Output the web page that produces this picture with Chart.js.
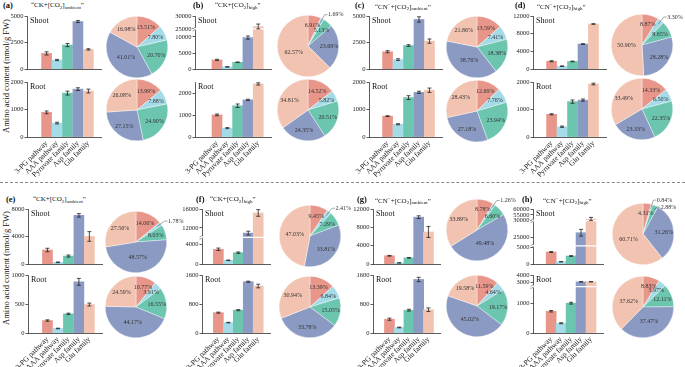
<!DOCTYPE html>
<html>
<head>
<meta charset="utf-8">
<script src="https://cdn.jsdelivr.net/npm/chart.js@4.4.0/dist/chart.umd.min.js"></script>
<style>
body { margin: 0; width: 685px; height: 367px; overflow: hidden; background: #fff; position: relative; font-family: "Liberation Serif", serif; color: #111; }
canvas { position: absolute; }
.lab { position: absolute; font-weight: bold; font-size: 8.5px; line-height: 10px; }
.ttl { position: absolute; font-size: 7px; line-height: 10px; white-space: nowrap; }
.ttl sub { font-size: 5px; vertical-align: -1.5px; }
.ttl sup { font-size: 5px; vertical-align: 2.5px; }
.ytitle { position: absolute; font-size: 8.5px; white-space: nowrap; transform: translate(-50%, -50%) rotate(-90deg); }
.dash { position: absolute; left: 0; width: 685px; top: 182px; border-top: 1px dashed #888; }
</style>
</head>
<body>
<div class="dash"></div>
<div class="ytitle" style="left:6px;top:76px">Amino acid content (nmol/g FW)</div>
<div class="ytitle" style="left:6px;top:268px">Amino acid content (nmol/g FW)</div>
<script>
const categories = ["3-PG pathway", "AAA pathway", "Pyruvate family", "Asp family", "Glu family"];
const colors = ["#e8968a", "#a4dbe9", "#6cc5ae", "#8a9ac3", "#f3c3b1"];

// (a) CK + ambient CO2
const aShoot = [1476, 852, 2261, 4480, 1855];
const aShootErr = [150, 60, 150, 100, 60];
const aRoot = [897, 505, 1596, 1740, 1671];
const aRootErr = [50, 30, 70, 50, 70];
const aShootPct = [13.51, 7.80, 20.70, 41.01, 16.98];
const aRootPct = [13.99, 7.88, 24.90, 27.15, 26.08];
const aShootTicks = [0, 2500, 5000];
const aRootTicks = [0, 1000, 2000];

// (b) CK + high CO2
const bShoot = [2860, 700, 2120, 9800, 25885];
const bShootErr = [200, 80, 100, 500, 1000];
const bRoot = [1006, 403, 1421, 1687, 2412];
const bRootErr = [40, 25, 80, 30, 50];
const bShootPct = [6.91, 1.69, 5.13, 23.69, 62.57];
const bRootPct = [14.52, 5.82, 20.51, 24.35, 34.81];
const bShootTicks = [0, 5000, 10000, 25000, 30000];
const bRootTicks = [0, 1000, 2000];

// (c) CN- + ambient CO2
const cShoot = [1638, 893, 2216, 4673, 2635];
const cShootErr = [100, 80, 80, 250, 200];
const cRoot = [759, 464, 1432, 1625, 1700];
const cRootErr = [15, 20, 70, 40, 80];
const cShootPct = [13.59, 7.41, 18.38, 38.76, 21.86];
const cRootPct = [12.69, 7.76, 23.94, 27.18, 28.43];
const cShootTicks = [0, 2500, 5000];
const cRootTicks = [0, 1000, 2000];

// (d) CN- + high CO2
const dShoot = [1776, 661, 1732, 5661, 10189];
const dShootErr = [120, 60, 80, 80, 80];
const dRoot = [825, 374, 1286, 1342, 1927];
const dRootErr = [20, 25, 60, 40, 30];
const dShootPct = [8.87, 3.30, 8.65, 28.28, 50.90];
const dRootPct = [14.33, 6.50, 22.35, 23.33, 33.49];
const dShootTicks = [0, 4000, 8000, 12000];
const dRootTicks = [0, 1000, 2000];

// (e) CK + ambient CO2
const eShoot = [2048, 259, 1170, 7076, 4015];
const eShootErr = [250, 50, 150, 250, 700];
const eRoot = [215, 78, 330, 882, 491];
const eRootErr = [12, 5, 12, 60, 25];
const eShootPct = [14.06, 1.78, 8.03, 48.57, 27.56];
const eRootPct = [10.77, 3.91, 16.55, 44.17, 24.59];
const eShootTicks = [0, 4000, 8000];
const eRootTicks = [0, 500, 1000];

// (f) CK + high CO2
const fShoot = [3047, 777, 2350, 10900, 15160];
const fShootErr = [250, 60, 150, 400, 700];
const fRoot = [561, 287, 630, 1415, 1296];
const fRootErr = [15, 8, 15, 15, 50];
const fShootPct = [9.45, 2.41, 7.29, 33.81, 47.03];
const fRootPct = [13.39, 6.84, 15.05, 33.78, 30.94];
const fShootTicks = [0, 4000, 12000, 16000];
const fRootTicks = [0, 800, 1600];

// (g) CN- + ambient CO2
const gShoot = [1813, 260, 1363, 10220, 6999];
const gShootErr = [80, 40, 60, 300, 1200];
const gRoot = [380, 152, 629, 1477, 642];
const gRootErr = [30, 10, 25, 60, 50];
const gShootPct = [8.78, 1.26, 6.60, 49.48, 33.89];
const gRootPct = [11.59, 4.64, 19.17, 45.02, 19.58];
const gShootTicks = [0, 4000, 8000, 12000];
const gRootTicks = [0, 800, 1600];

// (h) CN- + high CO2
const hShoot = [3640, 709, 2432, 26400, 51270];
const hShootErr = [150, 50, 100, 1000, 1500];
const hRoot = [726, 326, 995, 3080, 3092];
const hRootErr = [25, 15, 30, 20, 20];
const hShootPct = [4.31, 0.84, 2.88, 31.26, 60.71];
const hRootPct = [8.83, 3.97, 12.11, 37.47, 37.62];
const hShootTicks = [0, 5000, 25000, 30000, 55000, 60000];
const hRootTicks = [0, 1000, 3000, 4000];

// y scale with optional breaks: segs = [low, high, share of axis height]
class BrokenScale extends Chart.LinearScale {
    determineDataLimits() {
        const segs = this.options.segs;
        this.min = segs[0][0];
        this.max = segs[segs.length - 1][1];
    }
    buildTicks() {
        return this.options.tickVals.map(v => ({ value: v }));
    }
    getPixelForValue(v) {
        const segs = this.options.segs;
        const total = segs.reduce((s, g) => s + g[2], 0);
        let acc = 0;
        for (let i = 0; i < segs.length; i++) {
            const [lo, hi, w] = segs[i];
            if (v <= hi || i === segs.length - 1) {
                const t = Math.min(Math.max((v - lo) / (hi - lo), 0), 1);
                return this.bottom - (acc + t * w) / total * this.height;
            }
            acc += w;
        }
    }
    getValueForPixel(p) {
        const segs = this.options.segs;
        const total = segs.reduce((s, g) => s + g[2], 0);
        const f = (this.bottom - p) / this.height * total;
        let acc = 0;
        for (const [lo, hi, w] of segs) {
            if (f <= acc + w) return lo + (f - acc) / w * (hi - lo);
            acc += w;
        }
        return this.max;
    }
}
BrokenScale.id = "broken";
BrokenScale.defaults = Chart.LinearScale.defaults;
Chart.register(BrokenScale);

// breaks, error bars and the Shoot/Root tag
const barDecor = {
    id: "barDecor",
    afterDatasetsDraw(chart, args, opts) {
        const ctx = chart.ctx;
        const y = chart.scales.y;
        const area = chart.chartArea;
        const segs = y.options.segs;
        const total = segs.reduce((s, g) => s + g[2], 0);
        ctx.save();
        let acc = 0;
        for (let i = 0; i < segs.length - 1; i++) {
            acc += segs[i][2];
            const py = y.bottom - acc / total * y.height;
            ctx.strokeStyle = "#fff";
            ctx.lineWidth = 1.2;
            ctx.beginPath();
            ctx.moveTo(area.left + 1, py);
            ctx.lineTo(area.right, py);
            ctx.stroke();
            ctx.fillStyle = "#fff";
            ctx.fillRect(area.left - 1.5, py - 1.2, 3, 2.4);
            ctx.strokeStyle = "#444";
            ctx.lineWidth = 0.5;
            ctx.beginPath();
            ctx.moveTo(area.left - 2.5, py - 0.2);
            ctx.lineTo(area.left + 1, py - 2.2);
            ctx.moveTo(area.left - 2.5, py + 2.2);
            ctx.lineTo(area.left + 1, py + 0.2);
            ctx.stroke();
        }
        const ds = chart.data.datasets[0];
        ctx.strokeStyle = "#222";
        ctx.lineWidth = 0.8;
        chart.getDatasetMeta(0).data.forEach((bar, i) => {
            const v = ds.data[i].y;
            const e = ds.errs[i];
            const t = y.getPixelForValue(v + e);
            const b = y.getPixelForValue(v - e);
            ctx.beginPath();
            ctx.moveTo(bar.x, t);
            ctx.lineTo(bar.x, b);
            ctx.moveTo(bar.x - 2, t);
            ctx.lineTo(bar.x + 2, t);
            ctx.moveTo(bar.x - 2, b);
            ctx.lineTo(bar.x + 2, b);
            ctx.stroke();
        });
        ctx.fillStyle = "#111";
        ctx.font = '8px "Liberation Serif"';
        ctx.textBaseline = "middle";
        ctx.textAlign = "left";
        ctx.fillText(opts.text, area.left + 3, area.top + 4.5);
        ctx.restore();
    }
};

const pieLabels = {
    id: "pieLabels",
    afterDatasetsDraw(chart) {
        const ctx = chart.ctx;
        const vals = chart.data.datasets[0].data;
        ctx.save();
        ctx.font = '6px "Liberation Serif"';
        ctx.fillStyle = "#333";
        ctx.strokeStyle = "#555";
        ctx.lineWidth = 0.5;
        ctx.textBaseline = "middle";
        let lastY = null;
        chart.getDatasetMeta(0).data.forEach((arc, i) => {
            const p = arc.getProps(["x", "y", "startAngle", "endAngle", "outerRadius"], true);
            const mid = (p.startAngle + p.endAngle) / 2;
            const cx = Math.cos(mid), sy = Math.sin(mid), r = p.outerRadius;
            const txt = vals[i].toFixed(2) + "%";
            if (vals[i] < 3.5) {
                const ex = p.x + cx * r * 1.15;
                let ey = p.y + sy * r * 1.15;
                if (lastY !== null && Math.abs(ey - lastY) < 7) ey = lastY + 7;
                ctx.beginPath();
                ctx.moveTo(p.x + cx * r * 0.85, p.y + sy * r * 0.85);
                ctx.lineTo(ex, ey);
                ctx.lineTo(ex + 3, ey);
                ctx.stroke();
                ctx.textAlign = "left";
                ctx.fillText(txt, ex + 3.5, ey);
                lastY = ey;
            } else {
                const f = vals[i] >= 35 ? 0.5 : 0.68;
                ctx.textAlign = "center";
                ctx.fillText(txt, p.x + cx * r * f, p.y + sy * r * f);
            }
        });
        ctx.restore();
    }
};

const rows = [
    { sTop: 16, sBot: 71.5, rTop: 81.5, rBot: 136.5, labY: 0 },
    { sTop: 208.5, sBot: 266.5, rTop: 274.5, rBot: 332, labY: 194 }
];

const panels = [
    { id: "a", row: 0, treat: "CK", co2: "ambient", labX: 3, ttlX: 31, axisX: 27, c1: 42.3, c5: 94.7, pieX: 137, pieY: [47, 110],
      shoot: aShoot, shootErr: aShootErr, root: aRoot, rootErr: aRootErr, shootPct: aShootPct, rootPct: aRootPct,
      shootTicks: aShootTicks, rootTicks: aRootTicks, shootSegs: [[0, 5000, 1]], rootSegs: [[0, 2000, 1]] },
    { id: "b", row: 0, treat: "CK", co2: "high", labX: 193, ttlX: 215, axisX: 195, c1: 213, c5: 264.5, pieX: 307.5, pieY: [46, 110],
      shoot: bShoot, shootErr: bShootErr, root: bRoot, rootErr: bRootErr, shootPct: bShootPct, rootPct: bRootPct,
      shootTicks: bShootTicks, rootTicks: bRootTicks, shootSegs: [[0, 12500, 43.6], [25000, 30000, 14]], rootSegs: [[0, 2500, 1]] },
    { id: "c", row: 0, treat: "CN", co2: "ambient", labX: 355, ttlX: 375, axisX: 369, c1: 383, c5: 435, pieX: 476.5, pieY: [47, 111],
      shoot: cShoot, shootErr: cShootErr, root: cRoot, rootErr: cRootErr, shootPct: cShootPct, rootPct: cRootPct,
      shootTicks: cShootTicks, rootTicks: cRootTicks, shootSegs: [[0, 5000, 1]], rootSegs: [[0, 2000, 1]] },
    { id: "d", row: 0, treat: "CN", co2: "high", labX: 515, ttlX: 537, axisX: 533, c1: 547, c5: 599, pieX: 641.5, pieY: [45, 109],
      shoot: dShoot, shootErr: dShootErr, root: dRoot, rootErr: dRootErr, shootPct: dShootPct, rootPct: dRootPct,
      shootTicks: dShootTicks, rootTicks: dRootTicks, shootSegs: [[0, 12000, 1]], rootSegs: [[0, 2000, 1]] },
    { id: "e", row: 1, treat: "CK", co2: "ambient", labX: 6, ttlX: 33, axisX: 28, c1: 43, c5: 95, pieX: 135.5, pieY: [241.5, 307],
      shoot: eShoot, shootErr: eShootErr, root: eRoot, rootErr: eRootErr, shootPct: eShootPct, rootPct: eRootPct,
      shootTicks: eShootTicks, rootTicks: eRootTicks, shootSegs: [[0, 8000, 1]], rootSegs: [[0, 1000, 1]] },
    { id: "f", row: 1, treat: "CK", co2: "high", labX: 196, ttlX: 210, axisX: 202, c1: 214, c5: 264, pieX: 309.5, pieY: [235.5, 307],
      shoot: fShoot, shootErr: fShootErr, root: fRoot, rootErr: fRootErr, shootPct: fShootPct, rootPct: fRootPct,
      shootTicks: fShootTicks, rootTicks: fRootTicks, shootSegs: [[0, 5500, 28], [10000, 16000, 29.7]], rootSegs: [[0, 1600, 1]] },
    { id: "g", row: 1, treat: "CN", co2: "ambient", labX: 357, ttlX: 375, axisX: 372.7, c1: 385, c5: 434, pieX: 476.5, pieY: [230, 305.5],
      shoot: gShoot, shootErr: gShootErr, root: gRoot, rootErr: gRootErr, shootPct: gShootPct, rootPct: gRootPct,
      shootTicks: gShootTicks, rootTicks: gRootTicks, shootSegs: [[0, 12000, 1]], rootSegs: [[0, 1600, 1]] },
    { id: "h", row: 1, treat: "CN", co2: "high", labX: 522, ttlX: 543, axisX: 533, c1: 547, c5: 597, pieX: 642.5, pieY: [234, 307],
      shoot: hShoot, shootErr: hShootErr, root: hRoot, rootErr: hRootErr, shootPct: hShootPct, rootPct: hRootPct,
      shootTicks: hShootTicks, rootTicks: hRootTicks, shootSegs: [[0, 5500, 19.3], [22500, 30000, 26.7], [50000, 60000, 12.3]],
      rootSegs: [[0, 1550, 45.4], [2450, 4000, 11.3]] }
];

const YW = 26, PADT = 6, PADR = 4;

const addCanvas = (left, top, w, h) => {
    const c = document.createElement("canvas");
    c.width = w;
    c.height = h;
    c.style.left = left + "px";
    c.style.top = top + "px";
    c.style.width = w + "px";
    c.style.height = h + "px";
    document.body.appendChild(c);
    return c;
};

const makeBar = (p, vals, errs, segs, ticks, top, bot, tag, showLabels) => {
    const unit = (p.c5 - p.c1) / 4;
    const plotW = p.c5 + unit / 2 - p.axisX;
    const xh = showLabels ? 44 : 2;
    const left = Math.round(p.axisX - YW);
    const cTop = Math.round(top - PADT);
    const w = Math.round(YW + plotW + PADR);
    const h = Math.round(PADT + (bot - top) + xh);
    const canvas = addCanvas(left, cTop, w, h);
    new Chart(canvas, {
        type: "bar",
        data: {
            datasets: [{
                data: vals.map((v, i) => ({ x: i + 1, y: v })),
                errs: errs,
                backgroundColor: colors,
                barThickness: 10
            }]
        },
        options: {
            responsive: false,
            animation: false,
            events: [],
            layout: { padding: { top: PADT, right: PADR, left: 0, bottom: 0 } },
            plugins: { legend: { display: false }, tooltip: { enabled: false }, barDecor: { text: tag } },
            scales: {
                x: {
                    type: "linear",
                    min: 1 - (p.c1 - p.axisX) / unit,
                    max: 5.5,
                    afterBuildTicks: s => { s.ticks = categories.map((c, i) => ({ value: i + 1 })); },
                    afterFit: s => { s.height = xh; },
                    grid: { display: true, drawOnChartArea: false, drawTicks: false },
                    border: { display: true, color: "#333", width: 0.8 },
                    ticks: {
                        display: showLabels,
                        autoSkip: false,
                        minRotation: 45,
                        maxRotation: 45,
                        padding: 2,
                        color: "#222",
                        font: { family: "Liberation Serif", size: 7.5 },
                        callback: (v, i) => categories[i]
                    }
                },
                y: {
                    type: "broken",
                    segs: segs,
                    tickVals: ticks,
                    afterFit: s => { s.width = YW; },
                    grid: { drawOnChartArea: false, drawTicks: true, tickLength: 2.5, color: "#333", lineWidth: 0.8 },
                    border: { color: "#333", width: 0.8 },
                    ticks: {
                        padding: 1,
                        color: "#222",
                        font: { family: "Liberation Serif", size: 6.5 },
                        callback: v => String(v)
                    }
                }
            }
        },
        plugins: [barDecor]
    });
};

const makePie = (cx, cy, pcts) => {
    const W = 140, H = 90, R = 31;
    const canvas = addCanvas(Math.round(cx - W / 2), Math.round(cy - H / 2), W, H);
    new Chart(canvas, {
        type: "pie",
        data: {
            labels: categories,
            datasets: [{ data: pcts, backgroundColor: colors, borderColor: "#fff", borderWidth: 0.4 }]
        },
        options: {
            responsive: false,
            animation: false,
            events: [],
            layout: { padding: { left: W / 2 - R, right: W / 2 - R, top: H / 2 - R, bottom: H / 2 - R } },
            plugins: { legend: { display: false }, tooltip: { enabled: false } }
        },
        plugins: [pieLabels]
    });
};

panels.forEach(p => {
    const row = rows[p.row];
    const lab = document.createElement("div");
    lab.className = "lab";
    lab.style.left = p.labX + "px";
    lab.style.top = row.labY + "px";
    lab.textContent = "(" + p.id + ")";
    document.body.appendChild(lab);

    const ttl = document.createElement("div");
    ttl.className = "ttl";
    ttl.style.left = p.ttlX + "px";
    ttl.style.top = row.labY + "px";
    const treat = p.treat === "CN" ? "CN<sup>\u2212</sup>" : "CK";
    ttl.innerHTML = "\u201C" + treat + "+[CO<sub>2</sub>]<sub>" + p.co2 + "</sub>\u201D";
    document.body.appendChild(ttl);

    makeBar(p, p.shoot, p.shootErr, p.shootSegs, p.shootTicks, row.sTop, row.sBot, "Shoot", false);
    makeBar(p, p.root, p.rootErr, p.rootSegs, p.rootTicks, row.rTop, row.rBot, "Root", true);
    makePie(p.pieX, p.pieY[0], p.shootPct);
    makePie(p.pieX, p.pieY[1], p.rootPct);
});
</script>
</body>
</html>
